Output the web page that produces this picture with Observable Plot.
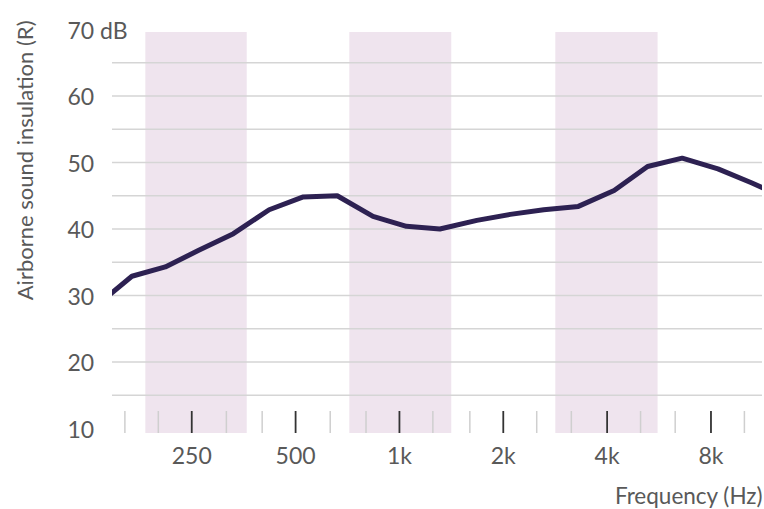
<!DOCTYPE html>
<html>
<head>
<meta charset="utf-8">
<script src="https://cdn.jsdelivr.net/npm/d3@7"></script>
<script src="https://cdn.jsdelivr.net/npm/@observablehq/plot@0.6"></script>
<style>
  html, body { margin: 0; padding: 0; background: #fff; }
  #chart svg { display: block; }
</style>
</head>
<body>
<div id="chart"></div>
<script>
// Third-octave band centre frequencies (Hz) and sound insulation values (dB)
const frequencies = [125, 160, 200, 250, 315, 400, 500, 630, 800, 1000, 1250, 1600, 2000, 2500, 3150, 4000, 5000, 6300, 8000, 10000, 12500];
const insulation  = [28.3, 32.9, 34.3, 36.8, 39.3, 42.9, 44.8, 45.0, 41.9, 40.4, 40.0, 41.3, 42.2, 42.9, 43.4, 45.8, 49.4, 50.65, 49.05, 46.95, 44.7];

// Shaded octave bands (edge frequencies, Hz)
const bandStart = [184, 718, 2840];
const bandEnd   = [362, 1418, 5620];

// Axis ticks
const majorTicks = [250, 500, 1000, 2000, 4000, 8000];
const majorLabels = ["250", "500", "1k", "2k", "4k", "8k"];
const minorTicks = [160, 200, 315, 400, 630, 800, 1250, 1600, 2500, 3150, 5000, 6300, 10000];
const yTicks = [10, 20, 30, 40, 50, 60, 70];
const yGrid = [15, 20, 25, 30, 35, 40, 45, 50, 55, 60, 65];

const data = frequencies.map((f, i) => ({freq: f, value: insulation[i]}));
const bands = bandStart.map((s, i) => ({start: s, end: bandEnd[i]}));
const xLabels = majorTicks.map((f, i) => ({freq: f, label: majorLabels[i]}));

const textColor = "#595959";
const font = "Lato, 'Open Sans', sans-serif";

const chart = Plot.plot({
  width: 764,
  height: 509,
  marginLeft: 112,
  marginRight: 2,
  marginTop: 32,
  marginBottom: 76,
  style: {fontFamily: font, fontSize: "23px", color: textColor, background: "#fff"},
  x: {type: "log", domain: [147.3, 11284]},
  y: {domain: [9.25, 69.55]},
  marks: [
    Plot.rect(bands, {x1: "start", x2: "end", fill: "#efe4ee"}),
    Plot.ruleY(yGrid, {stroke: "#d5d5d5", strokeWidth: 1.5}),
    Plot.axisY(yTicks, {
      tickSize: 0, tickPadding: 45, textAnchor: "start", dy: 2,
      tickFormat: d => d === 70 ? "70 dB" : String(d),
      fontSize: 23, fill: textColor, label: null
    }),
    Plot.axisX(minorTicks, {tickSize: 22, dy: -22, stroke: "#cfcfcf", strokeWidth: 1.5, fill: "none", label: null}),
    Plot.axisX(majorTicks, {tickSize: 22, dy: -22, stroke: "#333", strokeWidth: 1.8, fill: "none", label: null}),
    Plot.text(xLabels, {
      x: "freq", text: "label", frameAnchor: "bottom", lineAnchor: "middle",
      dy: 23, fontSize: 23, fill: textColor
    }),
    Plot.line(data, {x: "freq", y: "value", stroke: "#2d2152", strokeWidth: 5, dx: 7, clip: true, strokeLinejoin: "miter"}),
    Plot.text(["Airborne sound insulation (R)"], {
      frameAnchor: "top-left", rotate: -90, textAnchor: "end", lineAnchor: "middle",
      dx: -87, dy: -12, fontSize: 22, fill: textColor
    }),
    Plot.text(["Frequency (Hz)"], {
      frameAnchor: "bottom-right", textAnchor: "end", lineAnchor: "middle",
      dx: 0, dy: 63, fontSize: 22.5, fill: textColor
    })
  ]
});

document.getElementById("chart").appendChild(chart);
</script>
</body>
</html>
